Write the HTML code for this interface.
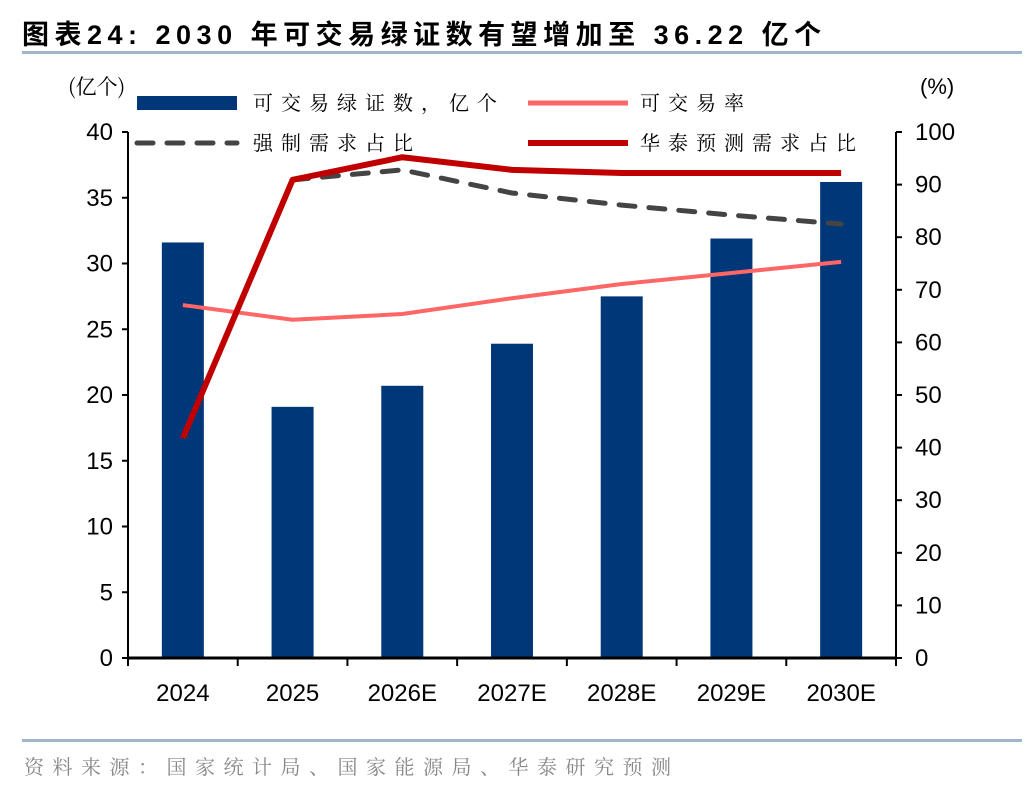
<!DOCTYPE html>
<html><head><meta charset="utf-8"><style>
body{margin:0;background:#fff;}
svg text{font-family:"Liberation Sans","Noto Serif CJK SC",serif;}
.cjk{font-family:"Noto Serif CJK SC","Liberation Serif",serif;}
</style></head><body>
<svg id="chart" width="1036" height="792" viewBox="0 0 1036 792" xmlns="http://www.w3.org/2000/svg">
<text x="22" y="44" font-size="27" font-weight="bold" fill="#000" letter-spacing="5.5" style="font-family:'Liberation Sans','Noto Sans CJK SC',sans-serif">图表24:  2030 年可交易绿证数有望增加至 36.22 亿个</text>
<rect x="22" y="51" width="1000" height="3" fill="#9fb5cc"/>
<text x="68" y="94" font-size="21" class="cjk">(亿个)</text>
<text x="920" y="94" font-size="22">(%)</text>
<g id="plot"></g>
<g>
<rect x="137" y="96" width="100" height="14" fill="#003778"/>
<text x="253" y="110" font-size="20" class="cjk" letter-spacing="8">可交易绿证数，亿个</text>
<line x1="528" y1="103" x2="628" y2="103" stroke="#ff6666" stroke-width="5"/>
<text x="640" y="110" font-size="20" class="cjk" letter-spacing="8">可交易率</text>
<line x1="137" y1="143" x2="237" y2="143" stroke="#444" stroke-width="5" stroke-dasharray="16,14" stroke-linecap="round"/>
<text x="253" y="150" font-size="20" class="cjk" letter-spacing="8">强制需求占比</text>
<line x1="528" y1="143" x2="628" y2="143" stroke="#c00000" stroke-width="6"/>
<text x="640" y="150" font-size="20" class="cjk" letter-spacing="8">华泰预测需求占比</text>
</g>
<rect x="22" y="739" width="1000" height="3" fill="#9fb5cc"/>
<text x="24" y="774" font-size="20" fill="#888" class="cjk" letter-spacing="8.5">资料来源：国家统计局、国家能源局、华泰研究预测</text>
</svg>
<script>
const categories=["2024","2025","2026E","2027E","2028E","2029E","2030E"];
const certificates=[31.6,19.1,20.7,23.9,27.5,31.9,36.2];
const tradeableRate=[67.1,64.3,65.4,68.4,71.1,73.2,75.3];
const mandatoryShare=[null,90.9,92.8,88.4,86.1,84.2,82.5];
const forecastShare=[41.8,90.9,95.2,92.8,92.2,92.2,92.2];
const leftTicks=[0,5,10,15,20,25,30,35,40];
const rightTicks=[0,10,20,30,40,50,60,70,80,90,100];

const NS="http://www.w3.org/2000/svg";
const g=document.getElementById('plot');
const X0=128,X1=896,Y0=658,Y1=132;
const step=(X1-X0)/categories.length;
const xc=i=>X0+step*(i+0.5);
const yL=v=>Y0-(v/40)*(Y0-Y1);
const yR=v=>Y0-(v/100)*(Y0-Y1);
function mk(t,a){const e=document.createElementNS(NS,t);for(const k in a)e.setAttribute(k,a[k]);g.appendChild(e);return e;}

certificates.forEach((v,i)=>{
 const r=mk('rect',{x:xc(i)-21,y:yL(v),width:42,height:Y0-yL(v),fill:'#003778'});
 
 
});
function line(vals,attrs,name){
 const pts=[];vals.forEach((v,i)=>{if(v!=null)pts.push(xc(i)+','+yR(v));});
 const p=mk('polyline',Object.assign({points:pts.join(' '),fill:'none','stroke-linejoin':'round'},attrs));
 
 
}
line(tradeableRate,{stroke:'#ff6666','stroke-width':4},'tradeable-rate-line');
line(mandatoryShare,{stroke:'#444','stroke-width':5,'stroke-dasharray':'16,14','stroke-linecap':'round'},'mandatory-share-line');
line(forecastShare,{stroke:'#c00000','stroke-width':6},'forecast-share-line');

let a=mk('line',{x1:X0,y1:Y0,x2:X1,y2:Y0,stroke:'#000','stroke-width':3});

a=mk('line',{x1:X0,y1:Y1,x2:X0,y2:Y0,stroke:'#000','stroke-width':2});

a=mk('line',{x1:X1,y1:Y1,x2:X1,y2:Y0,stroke:'#000','stroke-width':2});


leftTicks.forEach(v=>{
 mk('line',{x1:X0-6,y1:yL(v),x2:X0,y2:yL(v),stroke:'#000','stroke-width':2});
 const t=mk('text',{x:113,y:yL(v)+8,'font-size':24,'text-anchor':'end'});t.textContent=v;
 
 
});
rightTicks.forEach(v=>{
 mk('line',{x1:X1,y1:yR(v),x2:X1+6,y2:yR(v),stroke:'#000','stroke-width':2});
 const t=mk('text',{x:915,y:yR(v)+8,'font-size':24});t.textContent=v;
 
 
});
for(let i=0;i<=categories.length;i++){mk('line',{x1:X0+step*i,y1:Y0,x2:X0+step*i,y2:Y0+8,stroke:'#000','stroke-width':2});}
categories.forEach((c,i)=>{
 const t=mk('text',{x:xc(i),y:701,'font-size':24,'text-anchor':'middle'});t.textContent=c;
 
 
});
</script>
</body></html>
